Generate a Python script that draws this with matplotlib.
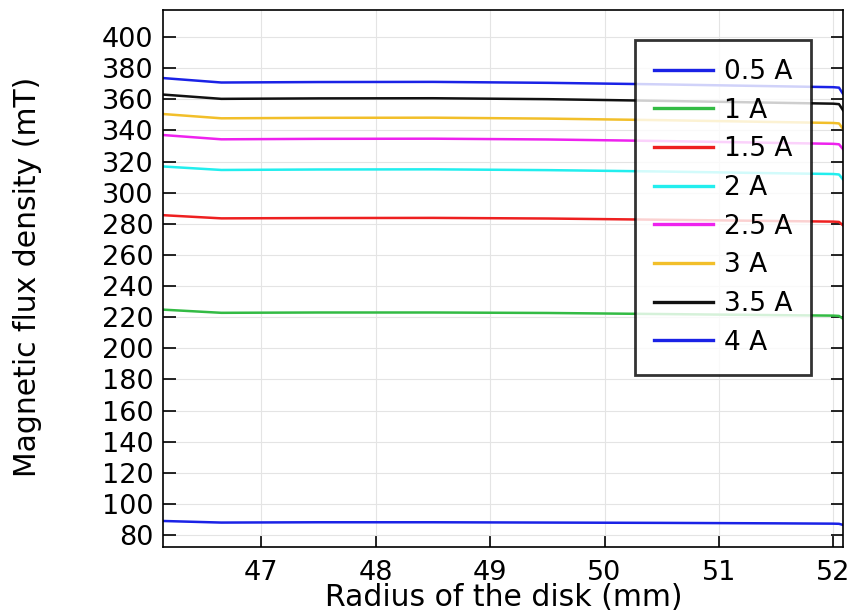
import matplotlib
matplotlib.use("Agg")
import matplotlib.pyplot as plt

radius = [46.15, 46.65, 47.5, 48.5, 49.5, 50.5, 51.5, 52.0, 52.05, 52.085]
labels = ["0.5 A", "1 A", "1.5 A", "2 A", "2.5 A", "3 A", "3.5 A", "4 A"]
b_05 = [89.0, 88.0, 88.2, 88.2, 88.0, 87.8, 87.5, 87.3, 87.2, 86.5]
b_10 = [224.8, 222.8, 223.0, 223.0, 222.7, 222.0, 221.3, 221.0, 220.8, 219.0]
b_15 = [285.5, 283.5, 283.7, 283.8, 283.4, 282.6, 281.8, 281.4, 281.2, 279.0]
b_20 = [316.8, 314.6, 314.9, 315.0, 314.5, 313.6, 312.5, 312.0, 311.7, 308.5]
b_25 = [337.0, 334.3, 334.6, 334.7, 334.2, 333.2, 332.0, 331.4, 331.1, 328.0]
b_30 = [350.5, 347.8, 348.1, 348.2, 347.6, 346.6, 345.4, 344.8, 344.5, 341.0]
b_35 = [363.0, 360.3, 360.6, 360.7, 360.1, 359.0, 357.8, 357.2, 356.9, 353.0]
b_40 = [373.6, 370.8, 371.1, 371.2, 370.6, 369.6, 368.4, 367.8, 367.5, 363.5]
series = [b_05, b_10, b_15, b_20, b_25, b_30, b_35, b_40]
colors = ["#1a22e6", "#33bb44", "#ee2020", "#22eeee", "#ee22ee", "#f2bf2a", "#111111", "#1a22e6"]

xticks = [47, 48, 49, 50, 51, 52]
yticks = list(range(80, 401, 20))

fig = plt.figure(figsize=(8.5, 6.14), dpi=100)
ax = fig.add_axes([163/850, 1-547/614, (843-163)/850, (547-10)/614])
for vals, c, lab in zip(series, colors, labels):
    ax.plot(radius, vals, color=c, lw=1.8, label=lab)

ax.set_xlim(46.14, 52.085)
ax.set_ylim(72.3, 417.4)
ax.set_xticks(xticks)
ax.set_yticks(yticks)
ax.grid(True, color="#e4e4e4", lw=0.8)
ax.tick_params(direction="in", length=9, width=1.2, labelsize=19.5, top=False, right=True, pad=7)
ax.tick_params(axis="x", pad=9)
for s in ax.spines.values():
    s.set_linewidth(1.2)
ax.set_xlabel("Radius of the disk (mm)", fontsize=21.5)
ax.set_ylabel("Magnetic flux density (mT)", fontsize=21.5)
ax.xaxis.set_label_coords(0.501, -0.067)
ax.yaxis.set_label_coords(-0.178, 0.503)

leg = ax.legend(loc="upper right", bbox_to_anchor=(811/850, 1-40/614), bbox_transform=fig.transFigure,
                fontsize=19, frameon=True, fancybox=False, edgecolor="black", borderaxespad=0,
                handlelength=2.2, labelspacing=0.48, borderpad=0.72, handletextpad=0.42)
leg.get_frame().set_linewidth(2.0)
for h in leg.get_lines():
    h.set_linewidth(2.4)
fig.savefig("out.png", dpi=100)
